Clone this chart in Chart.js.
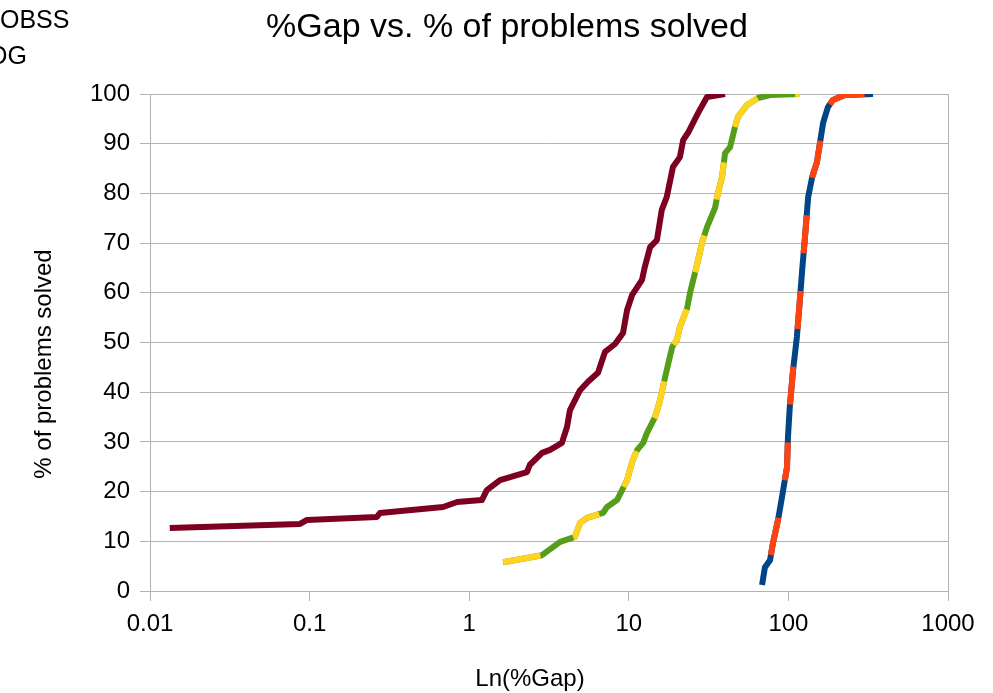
<!DOCTYPE html>
<html>
<head>
<meta charset="utf-8">
<title>%Gap vs. % of problems solved</title>
<script src="https://cdn.jsdelivr.net/npm/chart.js@4.4.1/dist/chart.umd.min.js"></script>
<style>
  html, body { margin: 0; padding: 0; background: #fff; overflow: hidden; }
  #gapChart { display: block; }
</style>
</head>
<body>
<canvas id="gapChart" width="993" height="693"></canvas>
<script>
const chartTitle = '%Gap vs. % of problems solved';
const xTitle = 'Ln(%Gap)';
const yTitle = '% of problems solved';
// tail ends of the legend entries, the rest sits off the left edge
const legendTail = ['OBSS', 'OG'];

const xTicks = [0.01, 0.1, 1, 10, 100, 1000];
const xTickLabels = ['0.01', '0.1', '1', '10', '100', '1000'];

// dark red series
const redGap = [0.0133, 0.0871, 0.0964, 0.264, 0.276, 0.686, 0.84, 1.20, 1.29, 1.56,
  2.30, 2.40, 2.86, 3.21, 3.81, 4.10, 4.28, 4.95, 5.55, 6.41,
  7.09, 8.20, 9.20, 9.75, 10.5, 12.1, 12.6, 13.6, 15.0, 16.1,
  17.3, 18.9, 20.9, 21.9, 23.5, 27.2, 30.9, 40.1];
const redSolved = [12.7, 13.5, 14.3, 14.9, 15.7, 16.9, 17.9, 18.3, 20.3, 22.3,
  23.9, 25.4, 27.8, 28.4, 29.8, 33.0, 36.4, 40.4, 42.1, 43.9,
  48.1, 49.7, 51.9, 56.5, 59.6, 62.6, 65.2, 69.2, 70.6, 76.7,
  79.3, 85.3, 87.3, 90.7, 92.2, 96.2, 99.4, 100];

// green / yellow pair (same values)
const greenGap = [1.63, 2.86, 3.71, 4.60, 4.95, 5.47, 6.89, 7.30, 8.44, 9.75,
  10.6, 11.3, 12.3, 13.0, 14.6, 15.7, 16.9, 18.7, 20.0, 20.9,
  23.2, 24.2, 27.2, 28.8, 30.9, 34.7, 36.2, 38.4, 40.1, 43.1,
  46.3, 48.3, 55.1, 64.5, 76.7, 118];
const greenSolved = [5.8, 7.2, 9.9, 10.9, 13.7, 14.7, 15.7, 16.9, 18.3, 22.3,
  26.4, 28.4, 29.8, 31.8, 35.0, 38.4, 43.1, 49.1, 50.5, 53.1,
  56.9, 60.0, 66.6, 70.2, 73.2, 77.1, 80.1, 83.3, 88.1, 89.3,
  93.4, 95.4, 97.8, 99.2, 99.8, 100];

// blue / orange pair (same values)
const blueGap = [68.4, 71.3, 76.7, 80.1, 86.1, 91.2, 98.0, 99.4, 102, 107,
  113, 118, 122, 127, 133, 141, 151, 165, 177, 190,
  226, 339];
const blueSolved = [1.2, 4.8, 6.2, 9.7, 14.3, 18.9, 24.9, 31.0, 37.0, 44.5,
  51.1, 58.6, 64.6, 71.2, 79.3, 83.3, 86.3, 94.2, 97.4, 98.8,
  99.8, 100];

const FONT = '"Liberation Sans", Arial, Helvetica, sans-serif';
const GRID = '#b3b3b3';

function points(xs, ys) {
  return xs.map((x, i) => ({ x: x, y: ys[i] }));
}

function series(label, xs, ys, color, dash, dashOffset) {
  return {
    label: label,
    data: points(xs, ys),
    borderColor: color,
    backgroundColor: color,
    borderWidth: 6,
    borderDash: dash || [],
    borderDashOffset: dashOffset || 0,
    borderCapStyle: 'butt',
    borderJoinStyle: 'round',
    tension: 0,
    pointRadius: 0,
    fill: false
  };
}

// title, axis titles and the clipped legend text
const textPlugin = {
  id: 'chartText',
  afterDraw(chart) {
    const ctx = chart.ctx;
    ctx.save();
    ctx.fillStyle = '#000';
    ctx.textBaseline = 'alphabetic';

    ctx.font = '34px ' + FONT;
    ctx.textAlign = 'center';
    ctx.fillText(chartTitle, 507, 37);

    ctx.font = '24px ' + FONT;
    ctx.fillText(xTitle, 530, 686);

    ctx.save();
    ctx.translate(51, 364);
    ctx.rotate(-Math.PI / 2);
    ctx.fillText(yTitle, 0, 0);
    ctx.restore();

    ctx.font = '25px ' + FONT;
    ctx.textAlign = 'left';
    ctx.fillText(legendTail[0], 0, 28);
    ctx.fillText(legendTail[1], -12, 64);
    ctx.restore();
  }
};

const ctx = document.getElementById('gapChart').getContext('2d');

new Chart(ctx, {
  type: 'line',
  data: {
    // first dataset ends up on top
    datasets: [
      series('red', redGap, redSolved, '#7e0021'),
      series('yellow', greenGap, greenSolved, '#ffd320', [38, 38], 0),
      series('green', greenGap, greenSolved, '#579d1c'),
      series('orange', blueGap, blueSolved, '#ff420e', [38, 38], 44),
      series('blue', blueGap, blueSolved, '#004586')
    ]
  },
  options: {
    responsive: false,
    animation: false,
    layout: { padding: { top: 94, right: 45, left: 0, bottom: 0 } },
    plugins: {
      legend: { display: false },
      tooltip: { enabled: false }
    },
    scales: {
      x: {
        type: 'logarithmic',
        min: 0.01,
        max: 1000,
        afterBuildTicks: (scale) => {
          scale.ticks = xTicks.map(v => ({ value: v }));
        },
        afterFit: (scale) => { scale.height = 102; },
        ticks: {
          autoSkip: false,
          maxRotation: 0,
          padding: 9,
          color: '#000',
          font: { family: FONT, size: 24 },
          callback: (value) => xTickLabels[xTicks.indexOf(value)]
        },
        grid: {
          // only the right edge gets a full line
          color: (c) => (c.index === xTicks.length - 1 ? GRID : 'rgba(0,0,0,0)'),
          tickColor: GRID,
          tickLength: 10,
          lineWidth: 1
        },
        border: { display: false }
      },
      y: {
        min: 0,
        max: 100,
        afterFit: (scale) => { scale.width = 150; },
        ticks: {
          stepSize: 10,
          padding: 10,
          color: '#000',
          font: { family: FONT, size: 24 }
        },
        grid: {
          color: GRID,
          tickLength: 10,
          lineWidth: 1
        },
        border: { color: GRID }
      }
    }
  },
  plugins: [textPlugin]
});
</script>
</body>
</html>
